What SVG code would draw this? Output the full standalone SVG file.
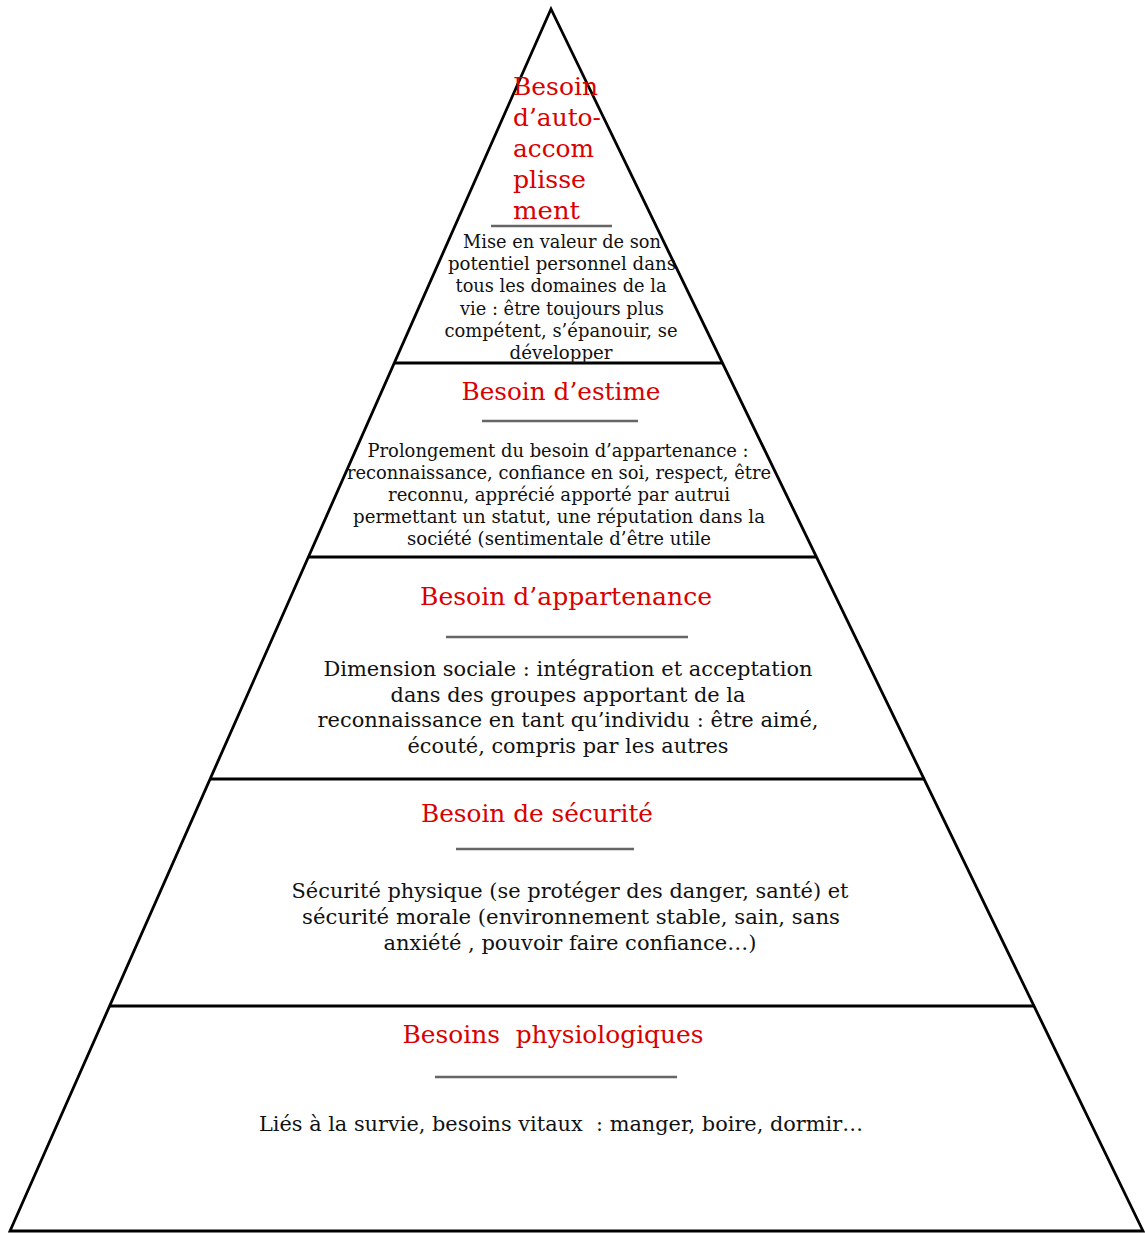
<svg xmlns="http://www.w3.org/2000/svg" width="1145" height="1233" viewBox="0 0 1145 1233">
<style>
.edge{stroke:#000;stroke-width:2.8;fill:none;stroke-linejoin:miter}
.div{stroke:#000;stroke-width:2.8}
.sep{stroke:#666;stroke-width:2.5}
.title{font-family:"DejaVu Serif","Liberation Serif",serif;fill:#d90000;font-size:25px}
.body{font-family:"DejaVu Serif","Liberation Serif",serif;fill:#111;font-size:18px;text-anchor:middle}
.body2{font-family:"DejaVu Serif","Liberation Serif",serif;fill:#111;font-size:21px;text-anchor:middle}
</style>
<rect width="1145" height="1233" fill="#fff"/>
<g id="connectors">
<polygon class="edge" points="551,9 10,1231 1143,1231"/>
<line class="div" x1="394" y1="363" x2="723" y2="363"/>
<line class="div" x1="308" y1="557" x2="817" y2="557"/>
<line class="div" x1="210" y1="779" x2="925" y2="779"/>
<line class="div" x1="109" y1="1006" x2="1035" y2="1006"/>
</g>
<g id="tier-autoaccomplissement">
<text class="title" font-size="26" x="513" y="95" textLength="85" lengthAdjust="spacingAndGlyphs">Besoin</text>
<text class="title" font-size="26" x="513" y="126" textLength="88" lengthAdjust="spacingAndGlyphs">d’auto-</text>
<text class="title" font-size="26" x="513" y="157" textLength="81" lengthAdjust="spacingAndGlyphs">accom</text>
<text class="title" font-size="26" x="513" y="188" textLength="73" lengthAdjust="spacingAndGlyphs">plisse</text>
<text class="title" font-size="26" x="513" y="219" textLength="67" lengthAdjust="spacingAndGlyphs">ment</text>
<line class="sep" x1="491" y1="226" x2="612" y2="226"/>
<text class="body" x="562" y="248" textLength="198" lengthAdjust="spacingAndGlyphs">Mise en valeur de son</text>
<text class="body" x="562" y="270" textLength="228" lengthAdjust="spacingAndGlyphs">potentiel personnel dans</text>
<text class="body" x="561" y="292" textLength="211" lengthAdjust="spacingAndGlyphs">tous les domaines de la</text>
<text class="body" x="562" y="315" textLength="204" lengthAdjust="spacingAndGlyphs">vie : être toujours plus</text>
<text class="body" x="561" y="337" textLength="233" lengthAdjust="spacingAndGlyphs">compétent, s’épanouir, se</text>
<text class="body" x="561" y="359" textLength="103" lengthAdjust="spacingAndGlyphs">développer</text>
</g>
<g id="tier-estime">
<text class="title" x="561" y="400" text-anchor="middle" textLength="199" lengthAdjust="spacingAndGlyphs">Besoin d’estime</text>
<line class="sep" x1="482" y1="421" x2="638" y2="421"/>
<text class="body" x="558" y="457" textLength="381" lengthAdjust="spacingAndGlyphs">Prolongement du besoin d’appartenance :</text>
<text class="body" x="559" y="479" textLength="424" lengthAdjust="spacingAndGlyphs">reconnaissance, confiance en soi, respect, être</text>
<text class="body" x="559" y="501" textLength="342" lengthAdjust="spacingAndGlyphs">reconnu, apprécié apporté par autrui</text>
<text class="body" x="559" y="523" textLength="412" lengthAdjust="spacingAndGlyphs">permettant un statut, une réputation dans la</text>
<text class="body" x="559" y="545" textLength="304" lengthAdjust="spacingAndGlyphs">société (sentimentale d’être utile</text>
</g>
<g id="tier-appartenance">
<text class="title" x="566" y="605" text-anchor="middle" textLength="292" lengthAdjust="spacingAndGlyphs">Besoin d’appartenance</text>
<line class="sep" x1="446" y1="637" x2="688" y2="637"/>
<text class="body2" x="568" y="676" textLength="489" lengthAdjust="spacingAndGlyphs">Dimension sociale : intégration et acceptation</text>
<text class="body2" x="568" y="702" textLength="355" lengthAdjust="spacingAndGlyphs">dans des groupes apportant de la</text>
<text class="body2" x="568" y="727" textLength="501" lengthAdjust="spacingAndGlyphs">reconnaissance en tant qu’individu : être aimé,</text>
<text class="body2" x="568" y="753" textLength="321" lengthAdjust="spacingAndGlyphs">écouté, compris par les autres</text>
</g>
<g id="tier-securite">
<text class="title" x="537" y="822" text-anchor="middle" textLength="232" lengthAdjust="spacingAndGlyphs">Besoin de sécurité</text>
<line class="sep" x1="456" y1="849" x2="634" y2="849"/>
<text class="body2" x="570" y="898" textLength="557" lengthAdjust="spacingAndGlyphs">Sécurité physique (se protéger des danger, santé) et</text>
<text class="body2" x="571" y="924" textLength="538" lengthAdjust="spacingAndGlyphs">sécurité morale (environnement stable, sain, sans</text>
<text class="body2" x="570" y="950" textLength="373" lengthAdjust="spacingAndGlyphs">anxiété , pouvoir faire confiance…)</text>
</g>
<g id="tier-physiologiques">
<text class="title" x="553" y="1043" text-anchor="middle" textLength="301" lengthAdjust="spacingAndGlyphs" xml:space="preserve">Besoins  physiologiques</text>
<line class="sep" x1="435" y1="1077" x2="677" y2="1077"/>
<text class="body2" x="561" y="1131" textLength="604" lengthAdjust="spacingAndGlyphs" xml:space="preserve">Liés à la survie, besoins vitaux  : manger, boire, dormir…</text>
</g>
</svg>
